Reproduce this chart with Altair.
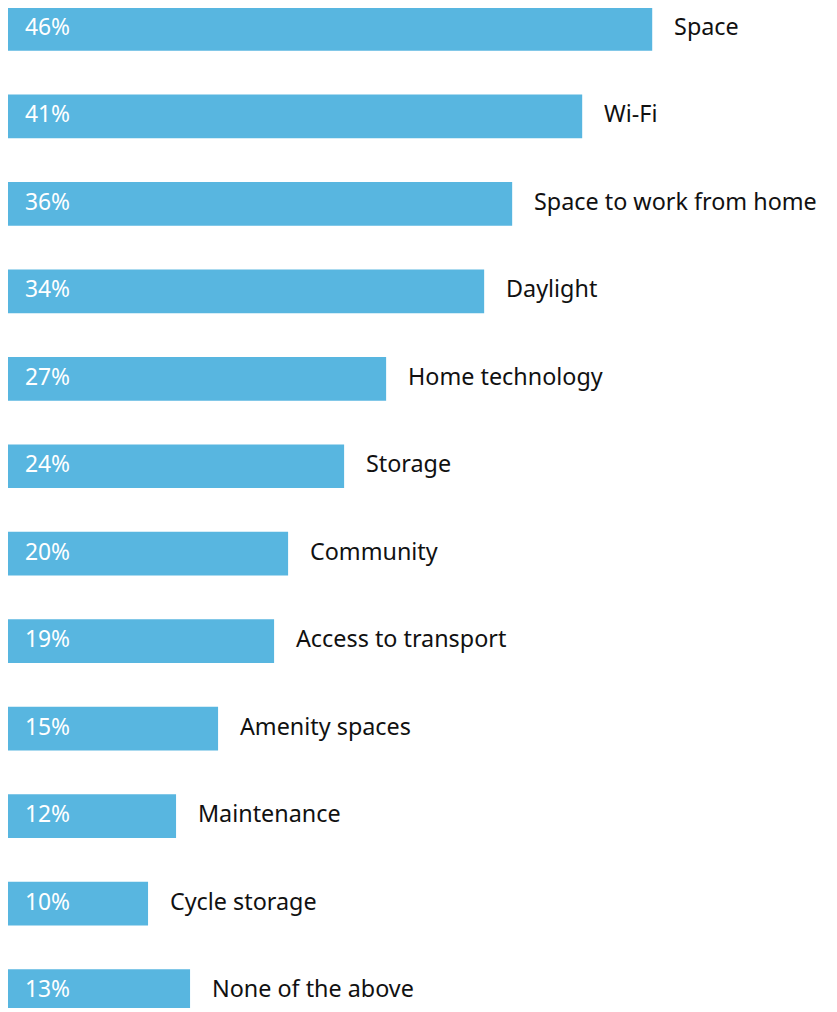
import altair as alt
import pandas as pd

categories = ["Space", "Wi-Fi", "Space to work from home", "Daylight", "Home technology",
              "Storage", "Community", "Access to transport", "Amenity spaces",
              "Maintenance", "Cycle storage", "None of the above"]
values = [46, 41, 36, 34, 27, 24, 20, 19, 15, 12, 10, 13]

df = pd.DataFrame({"category": categories, "value": values})
df["label"] = [f"{v}%" for v in values]

W = 826
H = 1000
PX_PER_PCT = 14.09
xmax = W / PX_PER_PCT

y = alt.Y("category:N", sort=categories, axis=None,
          scale=alt.Scale(range=[-4, 1008], paddingInner=0.5, paddingOuter=0))
x = alt.X("value:Q", axis=None, scale=alt.Scale(domain=[0, xmax], nice=False, zero=True))

base = alt.Chart(df)

bars = base.mark_bar(color="#58B6E0", cornerRadius=0).encode(x=x, y=y)

pct = base.mark_text(align="left", baseline="middle", color="white", font="Noto Sans",
                     fontSize=23, dy=-1).encode(
    x=alt.value(17), y=y, text="label:N")

cat = base.mark_text(align="left", baseline="middle", color="#111111", font="Noto Sans",
                     fontSize=23.5, dx=22, dy=-1).encode(x=x, y=y, text="category:N")

chart = alt.layer(bars, pct, cat).properties(
    width=W, height=H, padding=0,
    autosize=alt.AutoSizeParams(type="none")
).configure_view(stroke=None)

chart.save("out.html", embed_options={"renderer": "svg", "actions": False})
